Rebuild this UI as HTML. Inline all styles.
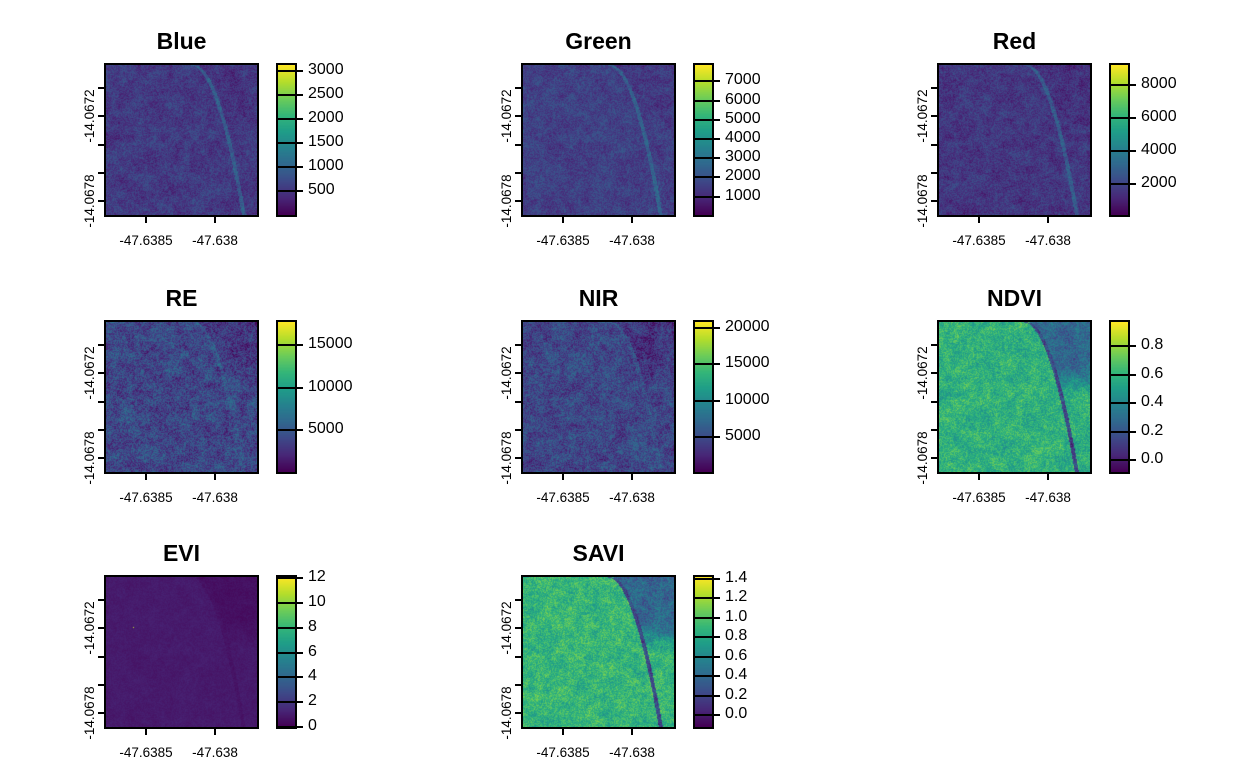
<!DOCTYPE html>
<html><head><meta charset="utf-8">
<style>
body{margin:0;width:1248px;height:768px;background:#fff;position:relative;overflow:hidden;font-family:"Liberation Sans",Arial,sans-serif;}
.title{position:absolute;font-weight:bold;font-size:23px;text-align:center;width:200px;color:#000;}
.map{position:absolute;border:2px solid #000;box-sizing:border-box;}
.map canvas,.bar canvas{width:100%;height:100%;display:block;}
.bar{position:absolute;border:2px solid #000;box-sizing:border-box;}
.tick{position:absolute;background:#000;}
.lbl{position:absolute;font-size:13.5px;line-height:14px;color:#000;white-space:nowrap;}
.leg{position:absolute;font-size:16px;color:#000;white-space:nowrap;}
</style></head><body>
<script>
// panel data
const names=["Blue","Green","Red","RE","NIR","NDVI","EVI","SAVI"];
const mins=[0,35,118,60,170,-0.082,0,-0.12];
const maxs=[3120,7860,9180,17760,20800,0.97,12.1,1.42];
const ticks=[[500,1000,1500,2000,2500,3000],[1000,2000,3000,4000,5000,6000,7000],[2000,4000,6000,8000],[5000,10000,15000],[5000,10000,15000,20000],[0.0,0.2,0.4,0.6,0.8],[0,2,4,6,8,10,12],[0.0,0.2,0.4,0.6,0.8,1.0,1.2,1.4]];
const tickDigits=[0,0,0,0,0,1,0,1];
const xTickLabels=["-47.6385","-47.638"];
const yTickLabels=["-14.0672","-14.0678"];
// texture profile (normalized colour position)
const bases=[0.16,0.18,0.15,0.2,0.2,0.62,0.07,0.64];
const amps=[0.1,0.1,0.1,0.16,0.15,0.15,0.025,0.15];
const riverD=[0.12,0.12,0.12,0.04,0.04,-0.42,-0.02,-0.45];
const regionD=[-0.02,-0.02,-0.02,-0.05,-0.06,-0.3,-0.03,-0.33];

const colLeft=[104,521,937], rowTop=[63,320,575];
const W=155,H=154;
const vir=[[68,1,84],[72,40,120],[62,74,137],[49,104,142],[38,130,142],[31,158,137],[53,183,121],[109,205,89],[180,222,44],[253,231,37]];
function viridis(t){t=Math.max(0,Math.min(1,t));const s=t*9,i=Math.min(8,Math.floor(s)),f=s-i;const a=vir[i],b=vir[i+1];return [a[0]+(b[0]-a[0])*f,a[1]+(b[1]-a[1])*f,a[2]+(b[2]-a[2])*f];}
function hash(x,y,s){let h=(x*374761393+y*668265263+s*982451653)|0;h=(h^(h>>>13))*1274126177|0;h=h^(h>>>16);return ((h>>>0)%10000)/10000;}
function vnoise(x,y,sc,s){const gx=x/sc,gy=y/sc,x0=Math.floor(gx),y0=Math.floor(gy),fx=gx-x0,fy=gy-y0;
const a=hash(x0,y0,s),b=hash(x0+1,y0,s),c=hash(x0,y0+1,s),d=hash(x0+1,y0+1,s);const u=fx*fx*(3-2*fx),v=fy*fy*(3-2*fy);
return a*(1-u)*(1-v)+b*u*(1-v)+c*(1-u)*v+d*u*v;}
function riverX(y){return 0.57+0.34*Math.sqrt(y);}

names.forEach((nm,k)=>{
  const col=k%3,row=Math.floor(k/3);
  const L=colLeft[col],T=rowTop[row];
  const ti=document.createElement('div');ti.className='title';
  
  
  ti.style.left=(L+W/2-100)+'px';ti.style.top=(T-35)+'px';ti.textContent=nm;document.body.appendChild(ti);
  const m=document.createElement('div');m.className='map';
  
  
  m.style.left=L+'px';m.style.top=T+'px';m.style.width=W+'px';m.style.height=H+'px';
  const cv=document.createElement('canvas');cv.width=W-4;cv.height=H-4;m.appendChild(cv);document.body.appendChild(m);
  const ctx=cv.getContext('2d'),img=ctx.createImageData(cv.width,cv.height);
  for(let y=0;y<cv.height;y++)for(let x=0;x<cv.width;x++){
    const nx=x/cv.width,ny=y/cv.height;
    let n=0.35*vnoise(x,y,8,k%5+1)+0.25*vnoise(x,y,3,7)+0.7*(hash(x,y,k+11)-0.5)+0.2;
    let t=bases[k]+amps[k]*(n-0.45)*2;
    const rx=riverX(ny),dx=nx-rx;
    if(Math.abs(dx)<0.013)t+=riverD[k];
    if(dx>0.013&&ny<0.5&&nx>0.6)t+=regionD[k]*Math.min(1,(0.5-ny)*5);
    if(k==6&&x==27&&y==50)t=0.9;
    const c=viridis(t),p=(y*cv.width+x)*4;
    img.data[p]=c[0];img.data[p+1]=c[1];img.data[p+2]=c[2];img.data[p+3]=255;}
  ctx.putImageData(img,0,0);
  [42,111].forEach((ox,i)=>{
    const t=document.createElement('div');t.className='tick';
    
    
    t.style.left=(L+ox-1)+'px';t.style.top=(T+H)+'px';t.style.width='2px';t.style.height='6px';document.body.appendChild(t);
    const l=document.createElement('div');l.className='lbl';
    
    
    l.style.left=(L+ox-40)+'px';l.style.width='80px';l.style.textAlign='center';l.style.top=(T+H+17)+'px';l.textContent=xTickLabels[i];document.body.appendChild(l);
  });
  [25,53,82,110,138].forEach(oy=>{
    const t=document.createElement('div');t.className='tick';
    
    
    t.style.left=(L-6)+'px';t.style.top=(T+oy-1)+'px';t.style.width='6px';t.style.height='2px';document.body.appendChild(t);
  });
  [53,138].forEach((oy,i)=>{
    const l=document.createElement('div');l.className='lbl';
    
    
    l.style.left=(L-54)+'px';l.style.width='80px';l.style.textAlign='center';l.style.top=(T+oy-7)+'px';
    l.style.transform='rotate(-90deg)';l.textContent=yTickLabels[i];document.body.appendChild(l);
  });
  const bl=L+172,bw=21;
  const b=document.createElement('div');b.className='bar';
  
  
  b.style.left=bl+'px';b.style.top=T+'px';b.style.width=bw+'px';b.style.height=H+'px';
  const bc=document.createElement('canvas');bc.width=1;bc.height=150;b.appendChild(bc);document.body.appendChild(b);
  const bctx=bc.getContext('2d');
  for(let y=0;y<150;y++){const c=viridis(1-y/149);bctx.fillStyle=`rgb(${c[0]|0},${c[1]|0},${c[2]|0})`;bctx.fillRect(0,y,1,1);}
  const mn=mins[k],mx=maxs[k];
  ticks[k].forEach(v=>{
    const y=T+H-2-(v-mn)/(mx-mn)*(H-4);
    const t=document.createElement('div');t.className='tick';
    
    
    t.style.left=bl+'px';t.style.top=(y-1)+'px';t.style.width=(bw+6)+'px';t.style.height='2px';document.body.appendChild(t);
    const l=document.createElement('div');l.className='leg';
    
    
    l.style.left=(bl+bw+11)+'px';l.style.top=(y-10)+'px';l.textContent=v.toFixed(tickDigits[k]);document.body.appendChild(l);
  });
});
</script>
</body></html>
